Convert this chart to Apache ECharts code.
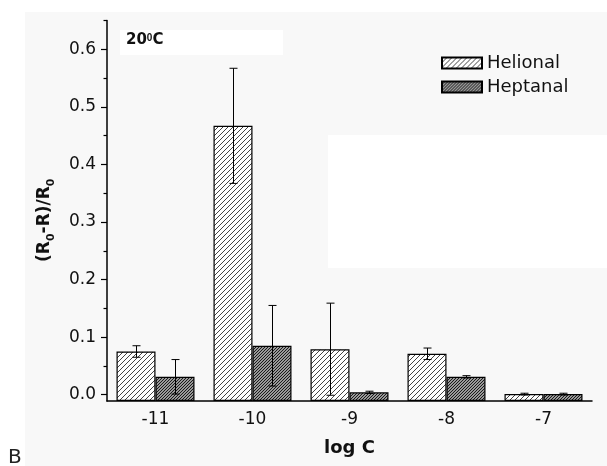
<!DOCTYPE html>
<html>
<head>
<meta charset="utf-8">
<script src="https://cdn.jsdelivr.net/npm/echarts@6/dist/echarts.min.js"></script>
<style>
  html, body { margin: 0; padding: 0; background: #fff; }
  #main { width: 607px; height: 466px; }
</style>
</head>
<body>
<div id="main"></div>
<script>
// data
var categories = ['-11', '-10', '-9', '-8', '-7'];
var helional = [0.075, 0.467, 0.079, 0.071, 0.001];
var helionalErr = [0.010, 0.100, 0.080, 0.010, 0.0015];
var heptanal = [0.031, 0.085, 0.004, 0.031, 0.001];
var heptanalErr = [0.030, 0.070, 0.002, 0.002, 0.0015];
var majorTicks = [0, 0.1, 0.2, 0.3, 0.4, 0.5, 0.6];
var minorTicks = [0.05, 0.15, 0.25, 0.35, 0.45, 0.55, 0.65];
var yMin = -0.011, yMax = 0.65;

// hatch fill ( /// lines )
function hatch(bg, line, step, lw) {
  var c = document.createElement('canvas');
  c.width = step; c.height = step;
  var ctx = c.getContext('2d');
  ctx.fillStyle = bg;
  ctx.fillRect(0, 0, step, step);
  ctx.strokeStyle = line;
  ctx.lineWidth = lw;
  ctx.beginPath();
  ctx.moveTo(-1, step + 1); ctx.lineTo(step + 1, -1);
  ctx.moveTo(-1, 1); ctx.lineTo(1, -1);
  ctx.moveTo(step - 1, step + 1); ctx.lineTo(step + 1, step - 1);
  ctx.stroke();
  return { image: c, repeat: 'repeat' };
}
var helFill = hatch('#ffffff', '#444444', 5, 1);
var hepFill = hatch('#999999', '#1a1a1a', 3, 1);

function errorSeries(name, values, errs, shift) {
  return {
    type: 'custom',
    name: name,
    z: 5,
    data: values.map(function (v, i) { return [i, v, errs[i]]; }),
    renderItem: function (params, api) {
      var i = api.value(0), v = api.value(1), e = api.value(2);
      var hi = api.coord([i, v + e]);
      var lo = api.coord([i, v - e]);
      var x = Math.round(hi[0] + shift) + 0.5;
      var st = { stroke: '#000', lineWidth: 1 };
      return {
        type: 'group',
        children: [
          { type: 'line', shape: { x1: x, y1: hi[1], x2: x, y2: lo[1] }, style: st },
          { type: 'line', shape: { x1: x - 4, y1: hi[1], x2: x + 4, y2: hi[1] }, style: st },
          { type: 'line', shape: { x1: x - 4, y1: lo[1], x2: x + 4, y2: lo[1] }, style: st }
        ]
      };
    }
  };
}

var chart = echarts.init(document.getElementById('main'));
var font = 'DejaVu Sans';

var option = {
  animation: false,
  backgroundColor: '#fff',
  graphic: [
    { type: 'rect', z: -10, silent: true, shape: { x: 25, y: 12, width: 582, height: 454 }, style: { fill: '#f8f8f8' } },
    { type: 'rect', z: -9, silent: true, shape: { x: 120, y: 30, width: 163, height: 25 }, style: { fill: '#ffffff' } },
    { type: 'rect', z: -9, silent: true, shape: { x: 328, y: 135, width: 279, height: 133 }, style: { fill: '#ffffff' } },
    {
      type: 'text', left: 126, top: 33,
      style: {
        text: '20{sup|0}C', fill: '#111', font: 'bold 15px ' + font,
        rich: { sup: { fontSize: 10, fontWeight: 'bold', verticalAlign: 'top', lineHeight: 12 } }
      }
    },
    { type: 'text', left: 8, top: 448, style: { text: 'B', fill: '#222', font: '20px ' + font } }
  ],
  legend: {
    data: ['Helional', 'Heptanal'],
    orient: 'vertical',
    left: 441,
    top: 54,
    padding: 0,
    icon: 'rect',
    itemWidth: 40,
    itemHeight: 11,
    itemGap: 6,
    textStyle: { fontFamily: font, fontSize: 18, color: '#111', lineHeight: 16 }
  },
  grid: { left: 107, right: 15, top: 20.5, bottom: 65 },
  xAxis: [
    {
      type: 'category',
      data: categories,
      position: 'bottom',
      name: 'log C',
      nameLocation: 'middle',
      nameGap: 38,
      nameTextStyle: { fontFamily: font, fontWeight: 'bold', fontSize: 18, color: '#111' },
      axisLine: { onZero: false, lineStyle: { color: '#000', width: 1.5 } },
      axisTick: { alignWithLabel: true, length: 5, lineStyle: { color: '#000', width: 1.2 } },
      axisLabel: { fontFamily: font, fontSize: 17, color: '#111', margin: 10 }
    },
    {
      type: 'category',
      data: categories,
      position: 'bottom',
      axisLine: { show: false, onZero: false },
      axisTick: { alignWithLabel: false, length: 4, lineStyle: { color: '#000', width: 1.2 } },
      axisLabel: { show: false }
    }
  ],
  yAxis: [
    {
      type: 'value',
      min: yMin,
      max: yMax,
      startValue: yMin,
      name: '(R{sub|0}-R)/R{sub|0}',
      nameLocation: 'middle',
      nameGap: 50,
      nameTextStyle: {
        fontFamily: font, fontWeight: 'bold', fontSize: 17, color: '#111', lineHeight: 24,
        padding: [0, 19, 0, 0],
        rich: { sub: { fontFamily: font, fontWeight: 'bold', fontSize: 11, verticalAlign: 'bottom', lineHeight: 12 } }
      },
      splitLine: { show: false },
      axisLine: { show: true, lineStyle: { color: '#000', width: 1.5 } },
      axisTick: { show: true, length: 6, customValues: majorTicks, lineStyle: { color: '#000', width: 1.2 } },
      axisLabel: {
        customValues: majorTicks, fontFamily: font, fontSize: 17, color: '#111', margin: 11,
        formatter: function (v) { return v.toFixed(1); }
      }
    },
    {
      type: 'value',
      min: yMin,
      max: yMax,
      position: 'left',
      splitLine: { show: false },
      axisLine: { show: false },
      axisTick: { show: true, length: 3.5, customValues: minorTicks, lineStyle: { color: '#000', width: 1.2 } },
      axisLabel: { show: false }
    }
  ],
  series: [
    {
      type: 'bar', name: 'Helional', data: helional, barWidth: 39, barGap: '0%',
      itemStyle: { color: helFill, borderColor: '#000', borderWidth: 1.2 }
    },
    {
      type: 'bar', name: 'Heptanal', data: heptanal, barWidth: 39, barGap: '0%',
      itemStyle: { color: hepFill, borderColor: '#000', borderWidth: 1.2 }
    },
    errorSeries('Helional err', helional, helionalErr, -19.5),
    errorSeries('Heptanal err', heptanal, heptanalErr, 19.5)
  ]
};
chart.setOption(option);
</script>
</body>
</html>
